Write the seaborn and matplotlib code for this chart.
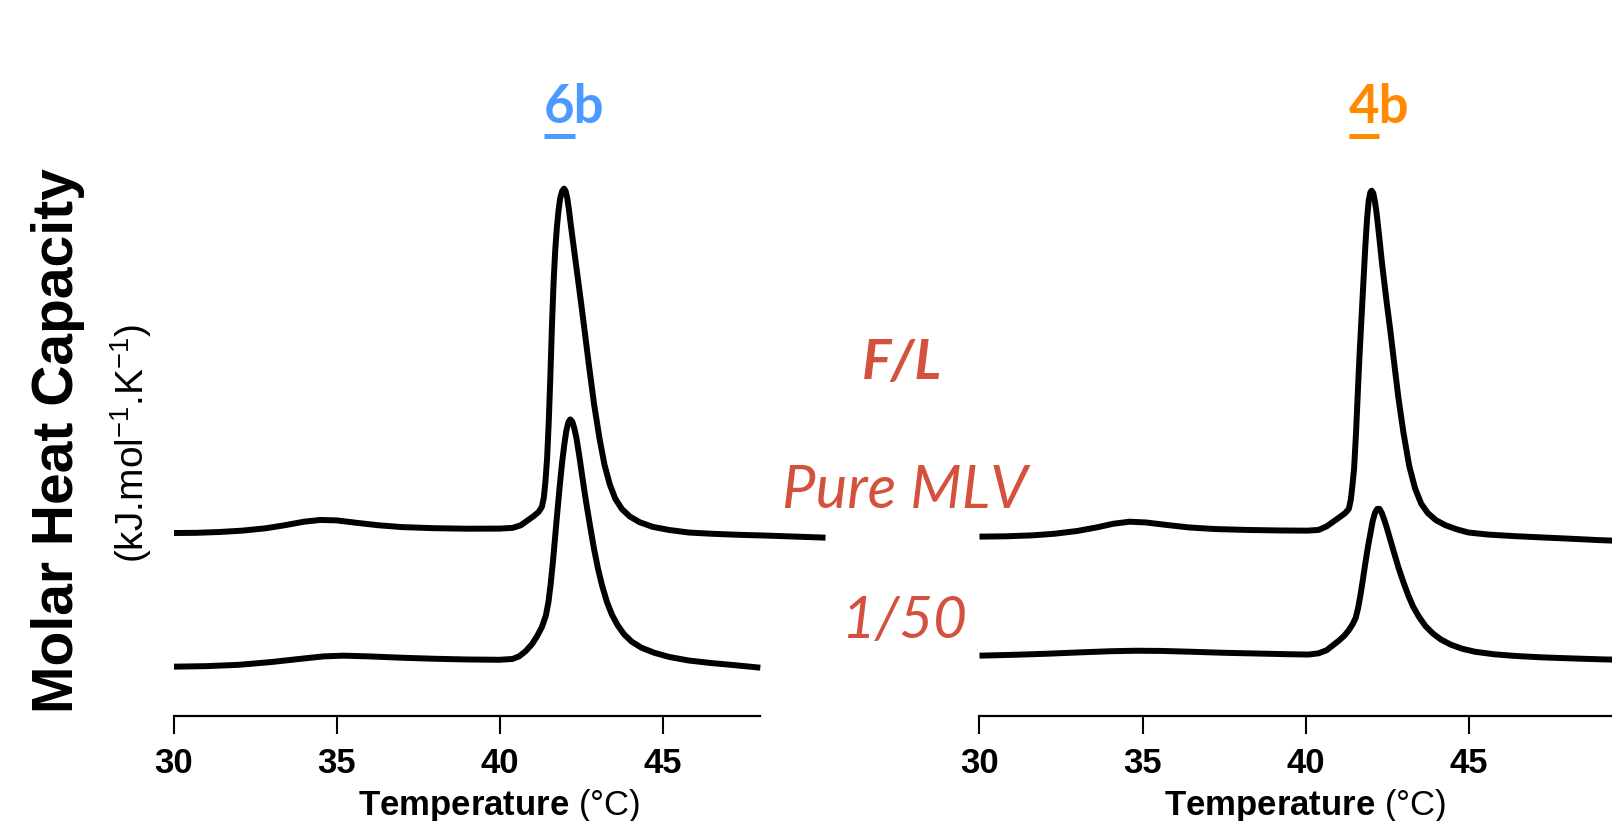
import numpy as np
import pandas as pd
import matplotlib
matplotlib.use("Agg")
import matplotlib.pyplot as plt
import matplotlib.transforms as mtransforms
from matplotlib.lines import Line2D
import seaborn as sns

# ---------------- data ----------------
temp_6b_mlv = [30.0, 30.7, 31.4, 32.1, 32.8, 33.4, 34.0, 34.5, 35.0, 35.6, 36.3, 37.0, 38.0, 39.0,
               40.0, 40.4, 40.65, 40.85, 41.05, 41.2, 41.3, 41.36, 41.41, 41.46, 41.51, 41.56,
               41.61, 41.66, 41.71, 41.76, 41.81, 41.86, 41.92, 41.98, 42.03, 42.08, 42.13,
               42.18, 42.25, 42.35, 42.5, 42.62, 42.75, 42.9, 43.07, 43.22, 43.38, 43.55,
               43.75, 44.0, 44.3, 44.7, 45.2, 45.8, 46.5, 47.3, 48.2, 49.1, 50.0]
cp_6b_mlv = [17.75, 17.77, 17.85, 17.98, 18.2, 18.5, 18.85, 19.02, 18.98, 18.75, 18.5, 18.33, 18.22, 18.17,
             18.18, 18.25, 18.5, 18.95, 19.4, 19.8, 20.3, 21.2, 22.8, 25.0, 28.5, 33.0,
             38.0, 42.2, 45.3, 47.5, 49.1, 50.3, 51.0, 51.25, 51.0, 50.3, 49.2,
             47.9, 46.2, 43.8, 40.2, 37.2, 33.9, 30.3, 26.9, 24.4, 22.5, 21.1,
             20.1, 19.35, 18.8, 18.35, 18.05, 17.8, 17.68, 17.58, 17.5, 17.4, 17.3]

temp_6b_150 = [30.0, 31.0, 32.0, 33.0, 34.0, 34.6, 35.2, 36.0, 37.0, 38.0, 39.0, 40.0, 40.4, 40.6,
               40.8, 41.0, 41.15, 41.3, 41.42, 41.5, 41.57, 41.64, 41.71, 41.78, 41.85, 41.92,
               41.99, 42.05, 42.11, 42.17, 42.23, 42.29, 42.36, 42.45, 42.55, 42.66, 42.78,
               42.9, 43.02, 43.15, 43.3, 43.45, 43.62, 43.82, 44.05, 44.35, 44.75, 45.2,
               45.8, 46.5, 47.2, 48.0]
cp_6b_150 = [4.75, 4.8, 4.93, 5.2, 5.55, 5.75, 5.82, 5.75, 5.62, 5.52, 5.45, 5.42, 5.5, 5.75,
             6.25, 6.95, 7.7, 8.6, 9.7, 11.0, 12.8, 15.0, 17.5, 20.0, 22.4, 24.6,
             26.4, 27.7, 28.5, 28.8, 28.6, 28.0, 27.0, 25.2, 23.0, 20.7, 18.4,
             16.2, 14.3, 12.6, 11.0, 9.8, 8.8, 7.9, 7.2, 6.6, 6.1, 5.7,
             5.35, 5.1, 4.9, 4.65]

temp_4b_mlv = [30.0, 30.8, 31.6, 32.3, 33.0, 33.6, 34.1, 34.6, 35.1, 35.7, 36.4, 37.2, 38.2, 39.2,
               40.05, 40.4, 40.65, 40.85, 41.05, 41.22, 41.33, 41.39, 41.44, 41.49, 41.55, 41.61,
               41.66, 41.72, 41.78, 41.84, 41.89, 41.94, 41.99, 42.03, 42.08, 42.13, 42.18,
               42.25, 42.35, 42.49, 42.6, 42.72, 42.85, 43.0, 43.18, 43.36, 43.55, 43.75,
               44.0, 44.3, 44.65, 45.0, 45.6, 46.4, 47.2, 48.1, 49.0, 50.0]
cp_4b_mlv = [17.4, 17.43, 17.52, 17.68, 17.95, 18.3, 18.65, 18.85, 18.78, 18.55, 18.3, 18.14, 18.05, 18.0,
             17.98, 18.05, 18.4, 18.85, 19.3, 19.7, 20.1, 21.0, 22.4, 24.0, 27.5, 31.8,
             35.2, 38.8, 42.4, 45.9, 48.4, 50.1, 50.9, 51.05, 50.8, 50.0, 48.9,
             46.9, 43.9, 40.2, 37.5, 34.3, 30.9, 27.6, 24.3, 22.1, 20.6, 19.7,
             19.0, 18.5, 18.1, 17.8, 17.6, 17.45, 17.33, 17.2, 17.06, 16.95]

temp_4b_150 = [30.0, 31.0, 32.0, 33.0, 34.0, 34.8, 35.6, 36.5, 37.5, 38.5, 39.5, 40.1, 40.4, 40.65,
               40.85, 41.05, 41.2, 41.33, 41.45, 41.54, 41.61, 41.68, 41.75, 41.83, 41.91, 41.99,
               42.06, 42.13, 42.2, 42.27, 42.34, 42.42, 42.5, 42.6, 42.72, 42.85, 43.0, 43.15,
               43.3, 43.48, 43.68, 43.9, 44.15, 44.45, 44.8, 45.2, 45.8, 46.5, 47.3, 48.2,
               49.1, 50.0]
cp_4b_150 = [5.82, 5.9, 6.0, 6.13, 6.25, 6.3, 6.28, 6.2, 6.1, 6.03, 5.96, 5.93, 6.05, 6.35,
             6.85, 7.35, 7.8, 8.3, 8.9, 9.5, 10.4, 11.6, 13.0, 14.7, 16.3, 17.7,
             18.9, 19.7, 20.1, 20.1, 19.7, 19.0, 18.2, 17.1, 15.8, 14.4, 13.0, 11.7,
             10.6, 9.6, 8.7, 8.0, 7.4, 6.9, 6.5, 6.2, 5.95, 5.78, 5.65, 5.55,
             5.46, 5.4]

x_ticks = [30, 35, 40, 45]
panel_titles = [("6", "b"), ("4", "b")]
panel_colors = ["#4b9bff", "#ff8a00"]
label_texts = ["F/L", "Pure MLV", "1/50"]
label_color = "#d4513d"

# ---------------- style ----------------
sns.set_theme(style="white")
plt.rcParams["font.family"] = ["Liberation Sans", "DejaVu Sans"]
plt.rcParams["text.color"] = "black"
plt.rcParams["axes.labelcolor"] = "black"
plt.rcParams["xtick.color"] = "black"
plt.rcParams["mathtext.fontset"] = "custom"
plt.rcParams["mathtext.rm"] = "Liberation Sans"
plt.rcParams["mathtext.bf"] = "Liberation Sans:bold"
plt.rcParams["mathtext.it"] = "Liberation Sans:italic"

W, H = 1612, 821
fig = plt.figure(figsize=(W / 100, H / 100), dpi=100)
fig.patch.set_facecolor("white")

ax_y0 = (H - 715.5) / H
ax_h = 1.0 - ax_y0
ax_w = 652 / W
axL = fig.add_axes([173.5 / W, ax_y0, ax_w, ax_h])
axR = fig.add_axes([979.5 / W, ax_y0, ax_w, ax_h])

df_L = [pd.DataFrame({"T": temp_6b_mlv, "Cp": cp_6b_mlv}),
        pd.DataFrame({"T": temp_6b_150, "Cp": cp_6b_150})]
df_R = [pd.DataFrame({"T": temp_4b_mlv, "Cp": cp_4b_mlv}),
        pd.DataFrame({"T": temp_4b_150, "Cp": cp_4b_150})]

for ax, dfs, bound_hi in [(axL, df_L, 48), (axR, df_R, 50)]:
    for d in dfs:
        sns.lineplot(data=d, x="T", y="Cp", ax=ax, color="black", lw=4.3,
                     estimator=None, sort=False, solid_joinstyle="round",
                     solid_capstyle="butt")
    ax.set_xlim(30, 50)
    ax.set_ylim(0, 69.6)
    ax.set_facecolor("none")
    for s in ["top", "right", "left"]:
        ax.spines[s].set_visible(False)
    ax.spines["bottom"].set_color("black")
    ax.spines["bottom"].set_linewidth(1.6)
    ax.spines["bottom"].set_bounds(30, bound_hi)
    ax.set_xticks(x_ticks)
    ax.set_xticklabels([str(t) for t in x_ticks], fontsize=25, fontweight="bold",
                       color="black")
    ax.set_yticks([])
    ax.tick_params(axis="x", direction="out", length=13, width=1.5, color="black",
                   pad=10, bottom=True, labelcolor="black")
    ax.set_xlabel("")
    ax.set_ylabel("")
    tr = mtransforms.blended_transform_factory(ax.transData, fig.transFigure)
    ax.text(40, 6 / H, r"$\bf{Temperature}$ (°C)", transform=tr, ha="center",
            va="baseline", fontsize=25, color="black", clip_on=False)

# y-axis title
fig.text(58 / W, 1 - 441 / H, "Molar Heat Capacity", rotation=90, ha="center",
         va="center", fontsize=41, fontweight="bold", color="black")
fig.text(131 / W, 1 - 443 / H, r"(kJ.mol$^{-1}$.K$^{-1}$)", rotation=90, ha="center",
         va="center", fontsize=28, color="black")

# red labels
tfam = ["Lato", "DejaVu Sans"]
fig.text(902 / W, 1 - 379 / H, label_texts[0], ha="center", va="baseline", fontsize=40,
         fontweight="bold", style="italic", color=label_color, family=tfam)
fig.text(905 / W, 1 - 508 / H, label_texts[1], ha="center", va="baseline", fontsize=43,
         style="italic", color=label_color, family=tfam)
fig.text(904 / W, 1 - 638 / H, label_texts[2], ha="center", va="baseline", fontsize=42,
         style="italic", color=label_color, family=tfam)

# panel titles with underlined first character
fig.canvas.draw()
renderer = fig.canvas.get_renderer()
for (first, rest), col, cx in zip(panel_titles, panel_colors, [574.5, 1379]):
    t = fig.text(cx / W, 1 - 123 / H, first + rest, ha="center", va="baseline",
                 fontsize=38, fontweight="bold", color=col, family=tfam)
    bb = t.get_window_extent(renderer=renderer)
    tf = fig.text(0, 0, first, fontsize=38, fontweight="bold", family=tfam, alpha=0)
    wf = tf.get_window_extent(renderer=renderer).width
    tf.remove()
    y_ul = 1 - 136 / H
    fig.add_artist(Line2D([bb.x0 / W, (bb.x0 + wf) / W], [y_ul, y_ul],
                          transform=fig.transFigure, color=col, lw=3.6,
                          solid_capstyle="butt"))

fig.savefig("out.png", dpi=100)
